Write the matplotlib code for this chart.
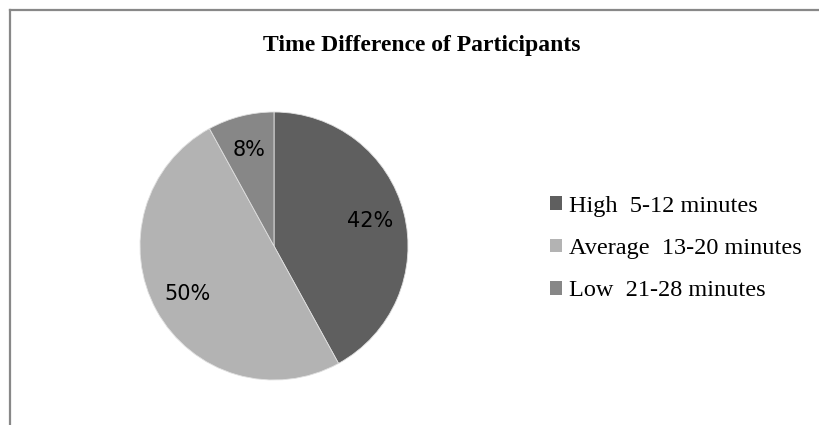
import matplotlib.pyplot as plt
from matplotlib.lines import Line2D

# data
categories = ['High  5-12 minutes', 'Average  13-20 minutes', 'Low  21-28 minutes']
shares = [42, 50, 8]
colors = ['#5f5f5f', '#b3b3b3', '#878787']

W, H = 820, 425
fig = plt.figure(figsize=(W / 100, H / 100), dpi=100)
fig.patch.set_facecolor('white')

# frame lines (top and left only, as in the scan)
fig.add_artist(Line2D([10 / W, 1], [1 - 10 / H, 1 - 10 / H], color='#888888', lw=1.6,
                      transform=fig.transFigure))
fig.add_artist(Line2D([10 / W, 10 / W], [0, 1 - 10 / H], color='#888888', lw=1.6,
                      transform=fig.transFigure))

# pie axes: center ~ (274, 246) px, radius ~134 px
r = 134
cx, cy = 274, 246
ax = fig.add_axes([(cx - r) / W, (H - cy - r) / H, 2 * r / W, 2 * r / H])
wedges, texts, autotexts = ax.pie(shares, colors=colors, startangle=90, counterclock=False,
                                  autopct='%d%%', pctdistance=0.74,
                                  wedgeprops=dict(linewidth=0.6, edgecolor='#e0e0e0'),
                                  textprops=dict(fontsize=15, family='DejaVu Sans', color='black'))
ax.set_xlim(-1, 1)
ax.set_ylim(-1, 1)

fig.text(422 / W, 1 - 45 / H, 'Time Difference of Participants', ha='center', va='center',
         fontsize=17, fontweight='bold', family='Liberation Serif')

leg = fig.legend(wedges, categories, loc='upper left', bbox_to_anchor=(540 / W, 1 - 186 / H),
                 frameon=False, prop=dict(family='Liberation Serif', size=17.5),
                 handlelength=0.5, handleheight=0.5, handletextpad=0.3, labelspacing=0.88,
                 borderaxespad=0)
for h in leg.legend_handles:
    h.set_edgecolor('none')

fig.savefig('out.png', dpi=100)
